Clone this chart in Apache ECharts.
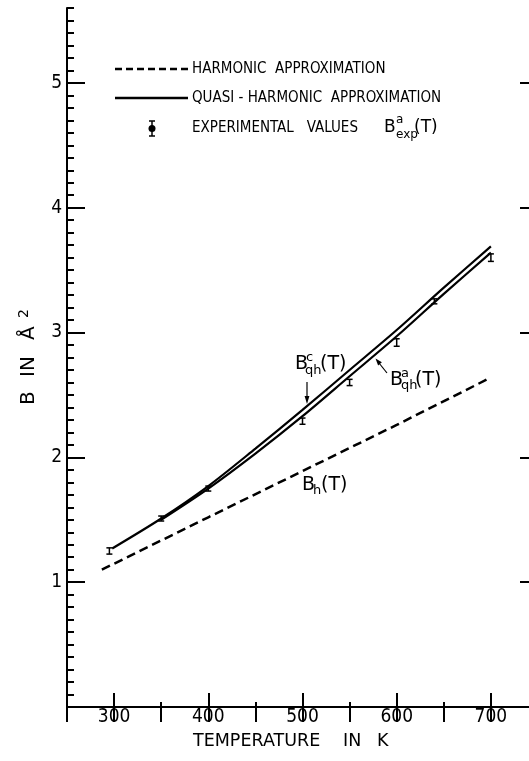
<!DOCTYPE html>
<html><head><meta charset="utf-8">
<script src="https://cdn.jsdelivr.net/npm/echarts@6/dist/echarts.min.js"></script>
<style>html,body{margin:0;padding:0;background:#fff}#c{width:529px;height:761px}</style>
</head><body><div id="c"></div>
<script>
// ---- data ----
const xMin = 250, xMax = 750, yMin = 0, yMax = 5.6;
const xMajorTicks = [300, 400, 500, 600, 700];
const xMinorTicks = [350, 450, 550, 650];
const yMajorTicks = [1, 2, 3, 4, 5];
const harmT = [287, 400, 500, 600, 700];
const harmB = [1.10, 1.52, 1.89, 2.26, 2.64];
const qhcT = [298, 350, 400, 450, 500, 550, 600, 650, 700];
const qhcB = [1.27, 1.51, 1.77, 2.07, 2.38, 2.70, 3.02, 3.36, 3.69];
const qhaT = [350, 400, 450, 500, 550, 600, 650, 700];
const qhaB = [1.50, 1.75, 2.03, 2.33, 2.65, 2.97, 3.31, 3.64];
const expT = [295, 350, 400, 500, 550, 600, 640, 700];
const expB = [1.25, 1.51, 1.75, 2.29, 2.60, 2.92, 3.25, 3.60];
const expErr = [0.025, 0.02, 0.02, 0.025, 0.025, 0.03, 0.02, 0.03];
const legendTexts = ['HARMONIC  APPROXIMATION', 'QUASI - HARMONIC  APPROXIMATION', 'EXPERIMENTAL   VALUES'];
const xTitleWords = ['TEMPERATURE', 'IN', 'K'];
const yTitleWords = ['B', 'IN', 'Å', '2'];

const FF = "'DejaVu Sans',sans-serif";
const FC = "'DejaVu Sans Condensed','DejaVu Sans',sans-serif";
const K = '#000';
const zip = (a, b) => a.map((v, i) => [v, b[i]]);

function txt(x, y, s, size, align, fam) {
  return {type: 'text', x: x, y: y, style: {text: s, font: size + 'px ' + (fam || FF), fill: K, align: align || 'left', verticalAlign: 'middle'}};
}
function seg(x1, y1, x2, y2, w, dash) {
  return {type: 'line', shape: {x1, y1, x2, y2}, style: {stroke: K, lineWidth: w || 1.5, lineDash: dash || null}};
}

const chart = echarts.init(document.getElementById('c'), null, {renderer: 'canvas'});
const baseAxisX = {type: 'value', min: xMin, max: xMax, splitLine: {show: false}};
const baseAxisY = {type: 'value', min: yMin, max: yMax, splitLine: {show: false}};

const option = {
  animation: false,
  backgroundColor: '#fff',
  grid: {left: 67, right: -9, top: 8, bottom: 54, outerBoundsMode: 'none', containLabel: false},
  xAxis: [
    Object.assign({}, baseAxisX, {position: 'bottom',
      axisLine: {show: true, lineStyle: {color: K, width: 2}},
      axisTick: {show: true, inside: true, length: 14, customValues: xMajorTicks, lineStyle: {color: K, width: 2}},
      axisLabel: {show: true, customValues: xMajorTicks, fontSize: 19, fontFamily: FC, color: K, margin: 1}}),
    Object.assign({}, baseAxisX, {position: 'bottom',
      axisLine: {show: false},
      axisTick: {show: true, inside: true, length: 5, customValues: xMinorTicks, lineStyle: {color: K, width: 2}},
      axisLabel: {show: false}}),
    Object.assign({}, baseAxisX, {position: 'top', interval: 50,
      axisLine: {show: true, lineStyle: {color: K, width: 2}},
      axisTick: {show: true, inside: true, length: 15, lineStyle: {color: K, width: 2}},
      axisLabel: {show: false}})
  ],
  yAxis: [
    Object.assign({}, baseAxisY, {position: 'left',
      axisLine: {show: true, lineStyle: {color: K, width: 2}},
      axisTick: {show: true, inside: true, length: 18, customValues: yMajorTicks, lineStyle: {color: K, width: 2}},
      axisLabel: {show: true, customValues: yMajorTicks, fontSize: 19, fontFamily: FC, color: K, margin: 5}}),
    Object.assign({}, baseAxisY, {position: 'left', interval: 0.1,
      axisLine: {show: false},
      axisTick: {show: true, inside: true, length: 7, lineStyle: {color: K, width: 2}},
      axisLabel: {show: false}}),
    Object.assign({}, baseAxisY, {position: 'right',
      axisLine: {show: true, lineStyle: {color: K, width: 2}},
      axisTick: {show: true, inside: true, length: 18, customValues: yMajorTicks, lineStyle: {color: K, width: 2}},
      axisLabel: {show: false}})
  ],
  series: [
    {name: 'B_h', type: 'line', xAxisIndex: 0, yAxisIndex: 0, data: zip(harmT, harmB), symbol: 'none',
      lineStyle: {color: K, width: 2.5, type: [9, 5]}},
    {name: 'B_qh^c', type: 'line', xAxisIndex: 0, yAxisIndex: 0, data: zip(qhcT, qhcB), symbol: 'none', smooth: 0.3,
      lineStyle: {color: K, width: 2.2}},
    {name: 'B_qh^a', type: 'line', xAxisIndex: 0, yAxisIndex: 0, data: zip(qhaT, qhaB), symbol: 'none', smooth: 0.3,
      lineStyle: {color: K, width: 2.2}},
    {name: 'B_exp', type: 'custom', xAxisIndex: 0, yAxisIndex: 0,
      data: expT.map((t, i) => [t, expB[i], expErr[i]]),
      renderItem: function (params, api) {
        const x = api.value(0), y = api.value(1), e = api.value(2);
        const t = api.coord([x, y + e]), b = api.coord([x, y - e]);
        const w = 3;
        return {type: 'group', children: [
          seg(t[0], t[1], b[0], b[1], 1.5),
          seg(t[0] - w, t[1], t[0] + w, t[1], 1.5),
          seg(b[0] - w, b[1], b[0] + w, b[1], 1.5)
        ]};
      }}
  ],
  graphic: [
    // legend
    seg(115, 69, 188, 69, 2.5, [7, 4]),
    txt(192, 69, legendTexts[0], 15, 'left', FC),
    seg(115, 98, 188, 98, 2.5),
    txt(192, 98, legendTexts[1], 15, 'left', FC),
    seg(152, 121, 152, 136, 1.5),
    seg(149, 121, 155, 121, 1.5),
    seg(149, 136, 155, 136, 1.5),
    {type: 'circle', shape: {cx: 152, cy: 128.5, r: 3.5}, style: {fill: K}},
    txt(192, 128, legendTexts[2], 15, 'left', FC),
    txt(384, 128, 'B', 17), txt(396, 120, 'a', 12), txt(396, 135, 'exp', 12), txt(414, 128, '(T)', 17),
    // curve labels
    txt(295, 364, 'B', 19), txt(306, 358, 'c', 13), txt(305, 371, 'qh', 13), txt(320, 364, '(T)', 19),
    seg(307, 382, 307, 399, 1.2),
    {type: 'polygon', shape: {points: [[307, 404], [304.6, 396], [309.4, 396]]}, style: {fill: K}},
    txt(390, 380, 'B', 19), txt(401, 374, 'a', 13), txt(401, 386, 'qh', 13), txt(415, 380, '(T)', 19),
    seg(387, 373, 379, 363, 1.2),
    {type: 'polygon', shape: {points: [[375.5, 358.5], [381.9, 362.3], [378.1, 365.5]]}, style: {fill: K}},
    txt(302, 485, 'B', 19), txt(313, 491, 'h', 13), txt(321, 485, '(T)', 19),
    // axis titles
    txt(193, 741, xTitleWords[0], 17.5), txt(343, 741, xTitleWords[1], 17.5), txt(377, 741, xTitleWords[2], 17.5),
    {type: 'group', x: 29, y: 354, rotation: Math.PI / 2, children: [
      txt(-51, 0, yTitleWords[0], 20),
      txt(-23, 0, yTitleWords[1], 20),
      txt(14, 0, yTitleWords[2], 20),
      txt(36, -5, yTitleWords[3], 14)
    ]}
  ]
};
chart.setOption(option);
</script>
</body></html>
